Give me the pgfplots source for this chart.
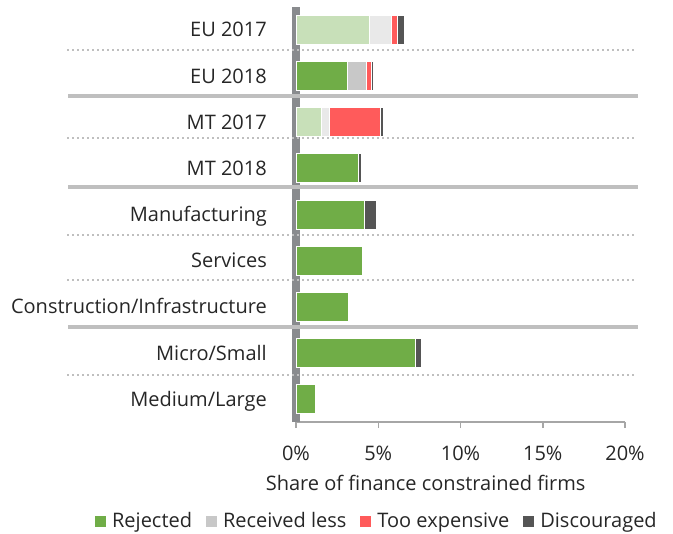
\documentclass[border=0pt]{standalone}
\usepackage{fontspec}
\setmainfont{Open Sans}
\usepackage{pgfplots}
\pgfplotsset{compat=1.18}
\definecolor{cGreen}{HTML}{70AD47}
\definecolor{cGreenL}{HTML}{C8E0B9}
\definecolor{cGrey}{HTML}{C8C8C8}
\definecolor{cGreyL}{HTML}{E9E9E9}
\definecolor{cRed}{HTML}{FF5B5B}
\definecolor{cDark}{HTML}{555555}
\definecolor{cVax}{HTML}{898B8E}
\definecolor{cXax}{HTML}{A6A6A6}
\definecolor{cSep}{HTML}{BFBFBF}
\definecolor{cText}{HTML}{262626}
\newcommand{\fs}{\fontsize{20bp}{23bp}\selectfont}
\begin{document}
\begin{tikzpicture}
\path (0,0) rectangle (673bp,534bp);
\begin{axis}[
  at={(296bp,112bp)}, anchor=south west,
  scale only axis, width=329bp, height=415bp,
  xmin=0, xmax=20, ymin=-0.494, ymax=8.498,
  xbar stacked, bar width=0.63,
  clip=false,
  axis x line*=bottom, axis y line*=left,
  x axis line style={draw=cXax, line width=1.5bp, -},
  y axis line style={draw=none},
  xtick={0,5,10,15,20},
  xticklabels={0\%,5\%,10\%,15\%,20\%},
  ytick={0,...,8},
  yticklabels={Medium/Large, Micro/Small, Construction/Infrastructure, Services, Manufacturing, MT 2018, MT 2017, EU 2018, EU 2017},
  xtick align=outside,
  xtick style={draw=cXax, line width=1.5bp},
  ytick style={draw=none},
  major tick length=6bp,
  ticklabel style={font=\fs, text=cText},
  xticklabel style={yshift=-14bp},
  yticklabel style={anchor=base east, inner sep=0pt, xshift=-29bp, yshift=-7bp},
  xlabel={Share of finance constrained firms},
  xlabel style={font=\fs, text=cText, at={(axis description cs:0.394,-0.147)}, anchor=center},
  legend columns=4,
  legend style={draw=none, fill=none, font=\fs, text=cText,
    at={(axis description cs:0.246,-0.2386)}, anchor=center,
    /tikz/every odd column/.append style={column sep=4bp},
    /tikz/every even column/.append style={column sep=12bp}},
  every axis plot/.append style={draw=white, line width=1bp},
]
\addlegendimage{legend image code/.code={\fill[cGreen] (0bp,-5bp) rectangle (10bp,5bp);}}
\addlegendimage{legend image code/.code={\fill[cGrey] (0bp,-5bp) rectangle (10bp,5bp);}}
\addlegendimage{legend image code/.code={\fill[cRed] (0bp,-5bp) rectangle (10bp,5bp);}}
\addlegendimage{legend image code/.code={\fill[cDark] (0bp,-5bp) rectangle (10bp,5bp);}}
\addplot[fill=cGreenL] coordinates {(4.44,8) (0,7) (1.58,6) (0,5) (0,4) (0,3) (0,2) (0,1) (0,0)};
\addplot[fill=cGreen] coordinates {(0,8) (3.14,7) (0,6) (3.81,5) (4.19,4) (4.07,3) (3.22,2) (7.25,1) (1.16,0)};
\addplot[fill=cGreyL] coordinates {(1.36,8) (0,7) (0.45,6) (0,5) (0,4) (0,3) (0,2) (0,1) (0,0)};
\addplot[fill=cGrey] coordinates {(0,8) (1.14,7) (0,6) (0,5) (0,4) (0,3) (0,2) (0,1) (0,0)};
\addplot[fill=cRed] coordinates {(0.38,8) (0.28,7) (3.10,6) (0,5) (0,4) (0,3) (0,2) (0,1) (0,0)};
\addplot[fill=cDark] coordinates {(0.39,8) (0.16,7) (0.16,6) (0.16,5) (0.71,4) (0,3) (0,2) (0.37,1) (0,0)};
\legend{Rejected, Received less, Too expensive, Discouraged}
% separators
\draw[cSep, line width=2bp, dash pattern=on 2bp off 3bp] (axis cs:-13.92,7.567) -- (axis cs:20.73,7.567);
\draw[cSep, line width=4bp] (axis cs:-13.86,6.563) -- (axis cs:20.79,6.563);
\draw[cSep, line width=2bp, dash pattern=on 2bp off 3bp] (axis cs:-13.92,5.653) -- (axis cs:20.73,5.653);
\draw[cSep, line width=4bp] (axis cs:-13.86,4.598) -- (axis cs:20.79,4.598);
\draw[cSep, line width=2bp, dash pattern=on 2bp off 3bp] (axis cs:-13.92,3.558) -- (axis cs:20.73,3.558);
\draw[cSep, line width=2bp, dash pattern=on 2bp off 3bp] (axis cs:-13.92,2.583) -- (axis cs:20.73,2.583);
\draw[cSep, line width=4bp] (axis cs:-13.86,1.558) -- (axis cs:20.79,1.558);
\draw[cSep, line width=2bp, dash pattern=on 2bp off 3bp] (axis cs:-13.92,0.535) -- (axis cs:20.73,0.535);
\draw[cVax, line width=7.3bp] (axis cs:0,-0.494) -- (axis cs:0,8.498);
\end{axis}
\end{tikzpicture}
\end{document}
